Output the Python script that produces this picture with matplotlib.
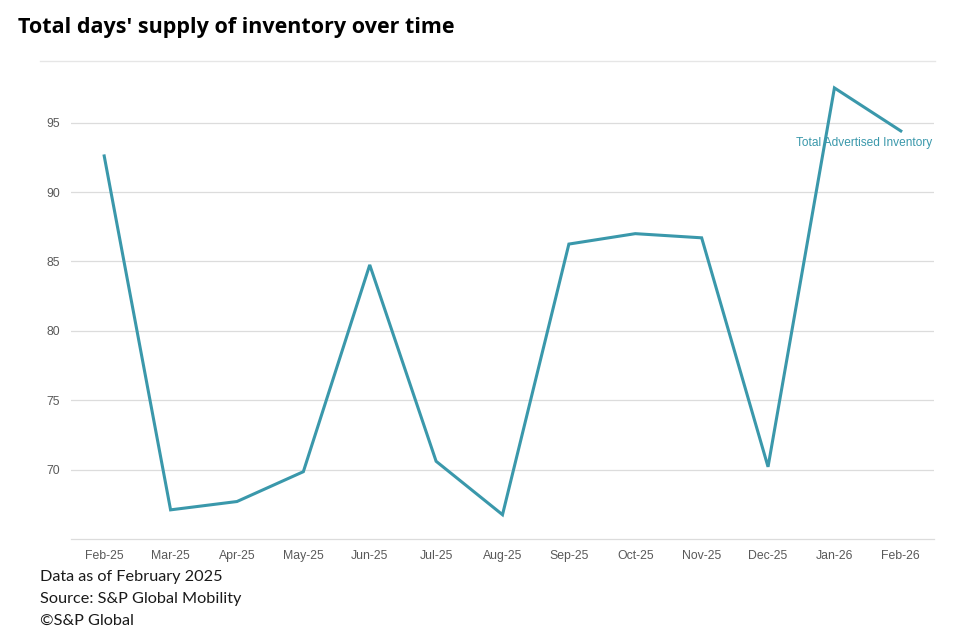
import matplotlib
matplotlib.use('Agg')
import matplotlib.pyplot as plt
from matplotlib.lines import Line2D

# Data
months = ['Feb-25', 'Mar-25', 'Apr-25', 'May-25', 'Jun-25', 'Jul-25', 'Aug-25',
          'Sep-25', 'Oct-25', 'Nov-25', 'Dec-25', 'Jan-26', 'Feb-26']
supply_days = [92.6, 67.1, 67.7, 69.85, 84.75, 70.6, 66.75,
               86.25, 87.0, 86.7, 70.2, 97.5, 94.4]
y_ticks = [70, 75, 80, 85, 90, 95]

line_color = '#3a98ab'
grid_color = '#dcdcdc'
tick_color = '#595959'

fig = plt.figure(figsize=(9.69, 6.39), dpi=100)
ax = fig.add_axes([71 / 969, 1 - 539 / 639, (934 - 71) / 969, (539 - 61) / 639])

x = list(range(len(months)))
ax.plot(x, supply_days, color=line_color, linewidth=2.2, solid_joinstyle='miter')

ax.set_xlim(-0.5, len(months) - 0.5)
ax.set_ylim(65, 99.44)
ax.set_xticks(x)
ax.set_xticklabels(months)
ax.set_yticks(y_ticks)
ax.tick_params(axis='both', length=0, labelsize=8.8, colors=tick_color, pad=8)
for lab in ax.get_xticklabels() + ax.get_yticklabels():
    lab.set_fontfamily('Liberation Sans')

ax.grid(axis='y', color=grid_color, linewidth=0.9)
ax.set_axisbelow(True)
for side in ['top', 'right', 'left']:
    ax.spines[side].set_visible(False)
ax.spines['bottom'].set_color(grid_color)
ax.spines['bottom'].set_linewidth(0.9)

# series label near the last point
ax.text(x[-1] + 0.48, supply_days[-1] - 0.85, 'Total Advertised Inventory', color=line_color,
        fontsize=8.6, ha='right', va='center', fontfamily='Liberation Sans')

# separator line under the title
fig.add_artist(Line2D([40 / 969, 935 / 969], [1 - 61 / 639, 1 - 61 / 639],
                      color='#e6e6e6', linewidth=1))

fig.text(18 / 969, 1 - 27 / 639, "Total days' supply of inventory over time",
         fontsize=15.5, fontweight='bold', fontfamily='Open Sans', va='center', ha='left')

footer = ['Data as of February 2025', 'Source: S&P Global Mobility', '\u00a9S&P Global']
for i, line in enumerate(footer):
    fig.text(40 / 969, 1 - (577 + 22 * i) / 639, line, fontsize=11.7, fontfamily='Lato',
             va='center', ha='left', color='#1a1a1a')

fig.savefig('out.png', dpi=100)
